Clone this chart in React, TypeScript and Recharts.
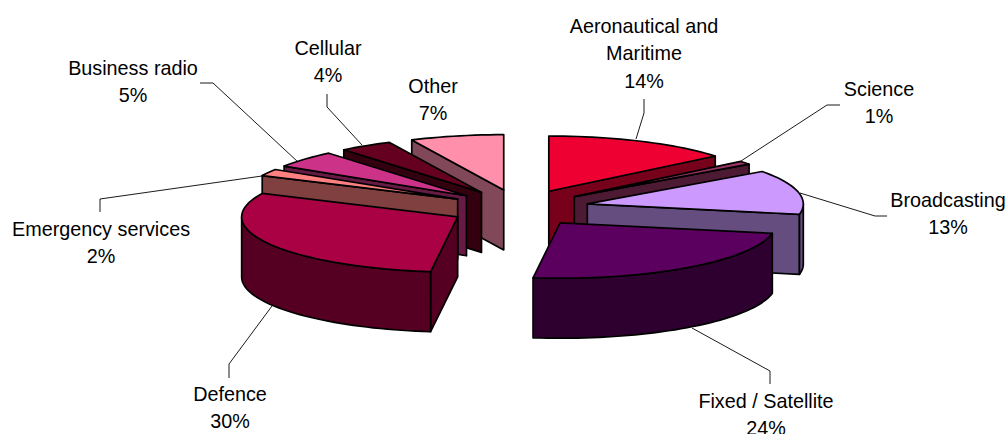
import React from "react";
import { PieChart, Pie } from "recharts";

// Allocation shares, clockwise from twelve o'clock.
const categories = [
  "Aeronautical and Maritime",
  "Science",
  "Broadcasting",
  "Fixed / Satellite",
  "Defence",
  "Emergency services",
  "Business radio",
  "Cellular",
  "Other",
];
const shares = [14, 1, 13, 24, 30, 2, 5, 4, 7];
const topColors = [
  "#EE0033",
  "#993366",
  "#CC99FF",
  "#5C0060",
  "#AA0044",
  "#FF8080",
  "#CC3388",
  "#660020",
  "#FF8FAB",
];
const sideColors = [
  "#77001A",
  "#4D1A33",
  "#664D80",
  "#2E0030",
  "#550022",
  "#804040",
  "#661A44",
  "#330010",
  "#804858",
];

// Label placement: text centre x, first line centre y, then the leader polyline.
const labelLayout: Record<string, { x: number; y: number; lines: string[]; leader: number[][] }> = {
  "Aeronautical and Maritime": {
    x: 644, y: 26, lines: ["Aeronautical and", "Maritime"],
    leader: [[644, 99], [644, 113], [636, 139]],
  },
  Science: { x: 879, y: 89, lines: ["Science"], leader: [[840, 105], [827, 105], [741, 161]] },
  Broadcasting: { x: 948, y: 200, lines: ["Broadcasting"], leader: [[887, 216], [875, 216], [800, 193]] },
  "Fixed / Satellite": { x: 766, y: 401, lines: ["Fixed / Satellite"], leader: [[770, 384], [770, 371], [692, 328]] },
  Defence: { x: 230, y: 394, lines: ["Defence"], leader: [[229, 378], [229, 364], [272, 306]] },
  "Emergency services": { x: 101, y: 229, lines: ["Emergency services"], leader: [[100, 212], [100, 199], [262, 176]] },
  "Business radio": { x: 133, y: 68, lines: ["Business radio"], leader: [[200, 83], [213, 83], [298, 162]] },
  Cellular: { x: 328, y: 48, lines: ["Cellular"], leader: [[327, 94], [327, 107], [362, 145]] },
  Other: { x: 433, y: 86, lines: ["Other"], leader: [] },
};

const WIDTH = 1007;
const HEIGHT = 434;
const CX = 519;
const CY = 208;
const RADIUS = 216;
const TILT = 55 / 215;
const EXPLODE_X = 70;
const EXPLODE_Y = 18.5;
const DEPTH = 60;
const LINE = 1.7;

const rows = categories.map((name, i) => ({
  name,
  value: shares[i],
  fill: topColors[i],
  sideFill: sideColors[i],
}));
// Two pies so the slices paint back to front on each side of the gap.
const rightRows = rows.slice(0, 4);
const leftRows = rows.slice(4).reverse();
const total = shares.reduce((a, b) => a + b, 0);
const rightSweep = (rightRows.reduce((a, r) => a + r.value, 0) / total) * 360;
const leftSweep = (leftRows.reduce((a, r) => a + r.value, 0) / total) * 360;

const rad = (d: number) => (d * Math.PI) / 180;
const toPath = (pts: number[][], close = true) =>
  pts.map((p, i) => `${i ? "L" : "M"}${p[0].toFixed(2)},${p[1].toFixed(2)}`).join("") + (close ? "Z" : "");

// Extruded, tilted wedge derived from the angles the Pie computed.
function Wedge(props: any) {
  const { cx, cy, outerRadius, startAngle, endAngle, fill, sideFill, payload } = props;
  const side = sideFill ?? payload?.sideFill;
  let lo = 90 - Math.max(startAngle, endAngle);
  let hi = 90 - Math.min(startAngle, endAngle);
  if (lo < 0) {
    lo += 360;
    hi += 360;
  }
  const mid = (lo + hi) / 2;
  const ax = cx + EXPLODE_X * Math.sin(rad(mid));
  const ay = cy - EXPLODE_Y * Math.cos(rad(mid));
  const rim = (t: number) => [ax + outerRadius * Math.sin(rad(t)), ay - outerRadius * TILT * Math.cos(rad(t))];
  const arc = (a: number, b: number) => {
    const n = Math.max(2, Math.ceil(Math.abs(b - a) / 2));
    return Array.from({ length: n + 1 }, (_, i) => rim(a + ((b - a) * i) / n));
  };
  const drop = (p: number[]) => [p[0], p[1] + DEPTH];
  const m = rim(mid);
  const apex = [ax, ay];

  // A straight wall shows only when the top face lies above its edge on screen.
  const wallShows = (t: number) => {
    const p = rim(t);
    const dx = p[0] - ax;
    const dy = p[1] - ay;
    if (Math.abs(dx) < 0.5) return false;
    const lineY = ay + (dy * (m[0] - ax)) / dx;
    return m[1] < lineY;
  };
  const walls = [lo, hi].filter(wallShows).map((t) => {
    const p = rim(t);
    return [apex, p, drop(p), drop(apex)];
  });

  const from = Math.max(lo, 90);
  const to = Math.min(hi, 270);
  const front = from < to ? arc(from, to) : null;

  return (
    <g stroke="#000" strokeWidth={LINE} strokeLinejoin="round">
      {walls.map((w, i) => (
        <path key={i} d={toPath(w)} fill={side} />
      ))}
      {front && <path d={toPath([...front, ...front.map(drop).reverse()])} fill={side} />}
      <path d={toPath([apex, ...arc(lo, hi)])} fill={fill} />
    </g>
  );
}

function SliceLabel(props: any) {
  const name = props.name ?? props.payload?.name;
  const value = props.value ?? props.payload?.value;
  const spot = labelLayout[name];
  if (!spot) return null;
  const rowsOfText = [...spot.lines, `${value}%`];
  return (
    <g>
      {spot.leader.length > 0 && (
        <path d={toPath(spot.leader, false)} fill="none" stroke="#000" strokeWidth={0.9} />
      )}
      {rowsOfText.map((t, i) => (
        <text
          key={i}
          x={spot.x}
          y={spot.y + i * 27.3}
          textAnchor="middle"
          dominantBaseline="central"
          fontFamily="'Liberation Sans', Arial, sans-serif"
          fontSize={19.8}
          fill="#000"
        >
          {t}
        </text>
      ))}
    </g>
  );
}

const shared = {
  dataKey: "value",
  nameKey: "name",
  cx: CX,
  cy: CY,
  innerRadius: 0,
  outerRadius: RADIUS,
  isAnimationActive: false,
  shape: Wedge,
  activeShape: Wedge,
  inactiveShape: Wedge,
  label: SliceLabel,
  labelLine: false,
  paddingAngle: 0,
  minAngle: 0,
  stroke: "none",
} as any;

export default function App() {
  return (
    <div style={{ position: "absolute", left: 0, top: 0, width: WIDTH, height: HEIGHT, overflow: "hidden", background: "#fff" }}>
      <PieChart width={WIDTH} height={HEIGHT} margin={{ top: 0, right: 0, bottom: 0, left: 0 }}>
        <Pie {...shared} data={rightRows} startAngle={90} endAngle={90 - rightSweep} />
        <Pie {...shared} data={leftRows} startAngle={90} endAngle={90 + leftSweep} />
      </PieChart>
    </div>
  );
}
